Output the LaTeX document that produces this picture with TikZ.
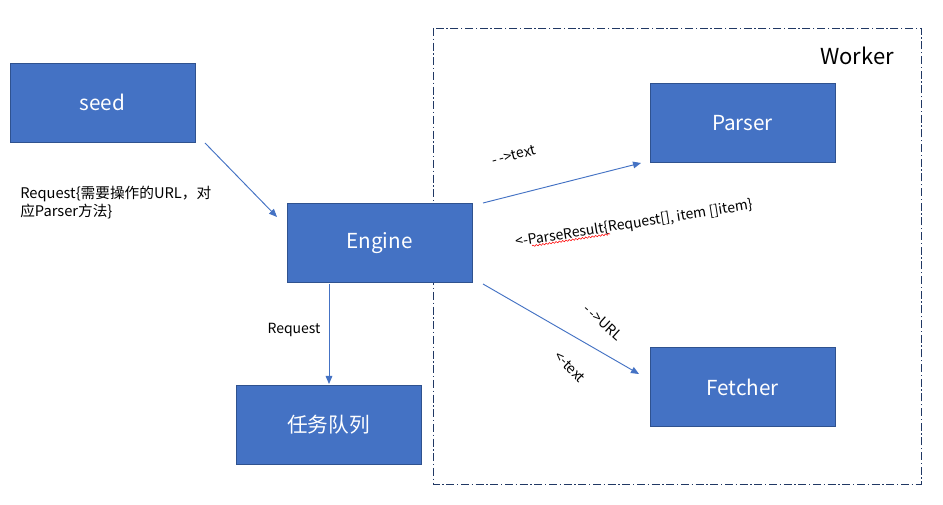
\documentclass[tikz,border=0pt]{standalone}
\usepackage{fontspec}
\setmainfont{Noto Sans CJK SC}
\usetikzlibrary{arrows.meta,decorations.pathmorphing}
\definecolor{boxfill}{HTML}{4472C4}
\definecolor{boxline}{HTML}{2F528F}
\definecolor{arrowc}{HTML}{4472C4}
\definecolor{framec}{HTML}{203864}
\tikzset{
  box/.style={draw=boxline, line width=0.6pt, fill=boxfill, text=white,
    minimum width=138.75pt, minimum height=59.25pt, inner sep=0pt,
    font=\fontsize{15.5}{18}\selectfont},
  conn/.style={draw=arrowc, line width=0.7pt, -{Triangle[length=6pt,width=5pt]}},
  lbl/.style={font=\fontsize{10.5}{13.5}\selectfont, text=black, inner sep=0pt},
}
\begin{document}
\begin{tikzpicture}[x=0.75pt,y=-0.75pt]
\useasboundingbox (0,0) rectangle (943,505);
\fill[white] (0,0) rectangle (943,505);
% worker frame
\draw[framec, line width=0.6pt, dash pattern=on 6pt off 2pt on 1pt off 2pt] (433,28) rectangle (921,484);
\node[font=\fontsize{16.5}{20}\selectfont, anchor=center] (worker) at (857,56) {Worker};
% boxes
\node[box] (seed) at (102.5,102.5) {seed};
\node[box] (engine) at (379.5,243) {Engine};
\node[box] (queue) at (328.5,424.5) {任务队列};
\node[box] (parser) at (742.5,123) {Parser};
\node[box] (fetcher) at (742.5,387) {Fetcher};
% connectors
\coordinate (s1) at (205,143);
\coordinate (e1) at (277,217);
\draw[conn] (s1) -- (e1);
\coordinate (eq1) at (329,284);
\coordinate (eq2) at (329,384);
\draw[conn] (eq1) -- (eq2);
\coordinate (ep1) at (483,203);
\coordinate (ep2) at (641,163);
\draw[conn] (ep1) -- (ep2);
\coordinate (ef1) at (483,284);
\coordinate (ef2) at (639,374);
\draw[conn] (ef1) -- (ef2);
% labels
\node[lbl, anchor=north west, align=left, font=\fontsize{11}{13.5}\selectfont] (reqlbl) at (20,186) {Request\{需要操作的URL，对\\应Parser方法\}};
\node[lbl] (req2) at (294,330) {Request};
\node[lbl, rotate=14] (t1) at (514,155) {-\,-{}>text};
\node[lbl, rotate=9] (t2) at (634,224) {<-{}ParseResult\{Request[], item []item\}};
\coordinate (w1) at (532,246);
\coordinate (w2) at (610,234);
\draw[red, line width=0.4pt, decorate, decoration={snake, amplitude=0.6pt, segment length=2.5pt}] (w1) -- (w2);
\node[lbl, rotate=-42] (t3) at (603,322) {-\,-{}>URL};
\node[lbl, rotate=-45] (t4) at (570,367) {<-{}text};
\end{tikzpicture}
\end{document}
